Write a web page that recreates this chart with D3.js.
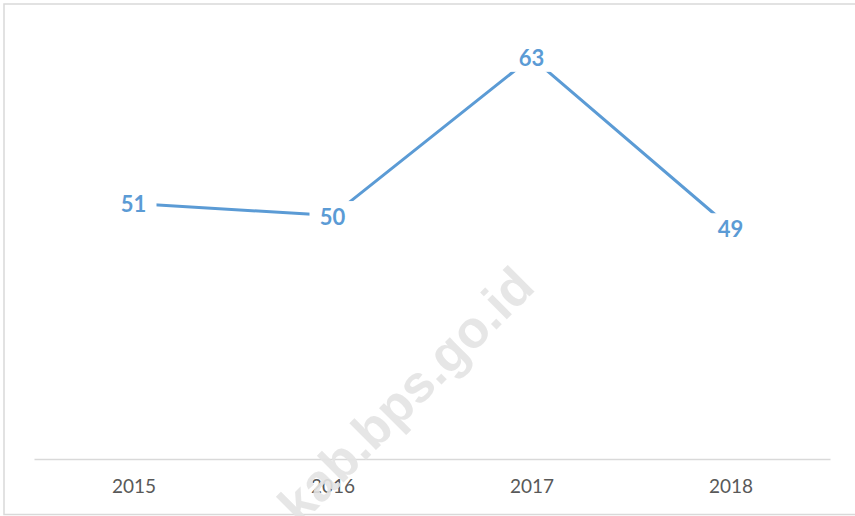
<!DOCTYPE html>
<html>
<head>
<meta charset="utf-8">
<script src="https://cdn.jsdelivr.net/npm/d3@7"></script>
<style>
	body { margin: 0; background: #fff; }
	svg { display: block; }
	.tick text { font-family: Lato, "Open Sans", sans-serif; font-size: 19px; fill: #595959; }
	.dataLabel { font-family: Lato, "Open Sans", sans-serif; font-size: 22px; font-weight: bold; fill: #5b9bd5; }
</style>
</head>
<body>
<svg id="chart"></svg>
<script>
//data
var years = ["2015", "2016", "2017", "2018"];
var values = [51, 50, 63, 49];
var yDomain = [30, 65];

//variables
var svgWidth = 855, svgHeight = 516;
var axisY = 459;

var svg = d3.select("#chart")
	.attr("width", svgWidth)
	.attr("height", svgHeight);

//chart border
svg.append("rect")
	.attr("x", 4)
	.attr("y", 4)
	.attr("width", svgWidth + 10)
	.attr("height", 510.5)
	.attr("fill", "#fff")
	.attr("stroke", "#d9d9d9")
	.attr("stroke-width", 1.5);

//scales
var xScale = d3.scalePoint()
	.domain(years)
	.range([34, 830])
	.padding(0.5);

var yScale = d3.scaleLinear()
	.domain(yDomain)
	.range([axisY, 33]);

//x axis
var xAxis = svg.append("g")
	.attr("transform", `translate(0,${axisY})`)
	.call(d3.axisBottom(xScale).tickSize(0).tickSizeOuter(0).tickPadding(21));

xAxis.select(".domain")
	.attr("stroke", "#d9d9d9")
	.attr("stroke-width", 1.5);

//line
var line = d3.line()
	.x(function(d, i){ return xScale(years[i]); })
	.y(function(d){ return yScale(d); });

svg.append("path")
	.datum(values)
	.attr("d", line)
	.attr("fill", "none")
	.attr("stroke", "#5b9bd5")
	.attr("stroke-width", 3)
	.attr("stroke-linejoin", "round");

//data labels with white boxes over the line
var labels = svg.selectAll(".labelGroup")
	.data(values)
	.enter()
	.append("g")
	.attr("class", "labelGroup")
	.attr("transform", function(d, i){
		return `translate(${xScale(years[i])},${yScale(d)})`;
	});

labels.append("rect")
	.attr("x", -23)
	.attr("y", -14.5)
	.attr("width", 46)
	.attr("height", 29)
	.attr("fill", "#fff");

labels.append("text")
	.attr("class", "dataLabel")
	.attr("text-anchor", "middle")
	.attr("y", 9)
	.text(function(d){ return d; });

//watermark
svg.append("text")
	.attr("transform", "translate(537,289) rotate(-45)")
	.attr("text-anchor", "end")
	.attr("font-family", "'Liberation Sans', Arial, sans-serif")
	.attr("font-weight", "bold")
	.attr("font-size", 52)
	.attr("fill", "#e3e3e3")
	.attr("fill-opacity", 0.9)
	.text("kab.bps.go.id");
</script>
</body>
</html>
